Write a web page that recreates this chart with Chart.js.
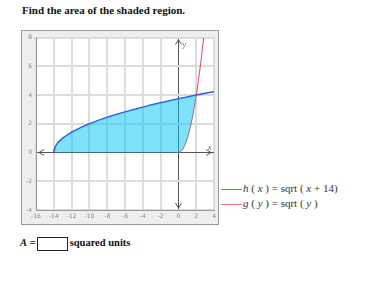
<!DOCTYPE html>
<html>
<head>
<meta charset="utf-8">
<script src="https://cdn.jsdelivr.net/npm/chart.js@4"></script>
<style>
  body { margin: 0; width: 389px; height: 305px; background: #fff; position: relative; }
  .serif { font-family: "Liberation Serif", "Times New Roman", "DejaVu Serif", serif; }
  .title { position: absolute; left: 22px; top: 4px; font-size: 11px; font-weight: bold; color: #111; }
  #wrap { position: absolute; left: 21px; top: 30px; width: 198px; height: 195px; }
  .leg { position: absolute; left: 221px; font-size: 11px; color: #333; white-space: nowrap; }
  .leg span.ln { display: inline-block; width: 21px; height: 0; border-top: 1px solid; vertical-align: middle; margin-right: 1px; }
  .ans { position: absolute; left: 20px; top: 237px; font-size: 10.5px; font-weight: bold; color: #111; white-space: nowrap; }
  .ans .box { display: inline-block; width: 29px; height: 12px; border: 1.5px solid #222; vertical-align: middle; margin: 0 2px 0 1px; }
</style>
</head>
<body>
<div class="title serif">Find the area of the shaded region.</div>
<div id="wrap"><canvas id="c"></canvas></div>
<div class="leg serif" style="top:182px"><span class="ln" style="border-color:#6a78f0"></span><i>h</i> ( <i>x</i> ) = sqrt ( <i>x</i> + 14)</div>
<div class="leg serif" style="top:197px"><span class="ln" style="border-color:#f07a7a"></span><i>g</i> ( <i>y</i> ) = sqrt ( <i>y</i> )</div>
<div class="ans serif"><i>A</i> =<span class="box"></span>squared units</div>
<script>
// h(x) = sqrt(x + 14), sampled
const hX = [-14, -13.99, -13.96, -13.9, -13.75, -13.5, -13, -12.5, -12, -11, -10, -9, -8, -7, -6, -5, -4, -3, -2, -1, 0, 1, 2, 3, 4]
const hY = [0, 0.1, 0.2, 0.32, 0.5, 0.71, 1, 1.22, 1.41, 1.73, 2, 2.24, 2.45, 2.65, 2.83, 3, 3.16, 3.32, 3.46, 3.61, 3.74, 3.87, 4, 4.12, 4.24]
// x = sqrt(y)  ->  y = x^2, sampled
const gX = [0, 0.25, 0.5, 0.75, 1, 1.25, 1.5, 1.75, 2, 2.25, 2.5, 2.75, 2.83]
const gY = [0, 0.06, 0.25, 0.56, 1, 1.56, 2.25, 3.06, 4, 5.06, 6.25, 7.56, 8]
// shaded region limits
const regionLeft = -14
const regionRight = 2
const xTicks = [-16, -14, -12, -10, -8, -6, -4, -2, 0, 2, 4]
const yTicks = [-4, -2, 0, 2, 4, 6, 8]

const pts = (xs, ys) => xs.map((x, i) => ({ x, y: ys[i] }))

const hPts = pts(hX, hY)
const gPts = pts(gX, gY)
const fillTop = hPts.filter(p => p.x <= regionRight)
const fillBottom = [{ x: regionLeft, y: 0 }].concat(gPts.filter(p => p.x <= regionRight))

const panel = {
  id: 'panel',
  beforeDraw(chart) {
    const { ctx, chartArea: a, width, height } = chart
    ctx.save()
    ctx.fillStyle = '#eeeeee'
    ctx.fillRect(0, 0, width, height)
    ctx.strokeStyle = '#9a9a9a'
    ctx.lineWidth = 1
    ctx.strokeRect(0.5, 0.5, width - 1, height - 1)
    ctx.fillStyle = '#fff'
    ctx.fillRect(a.left, a.top, a.right - a.left, a.bottom - a.top)
    ctx.restore()
  },
  afterDraw(chart) {
    const { ctx, chartArea: a, scales: { x, y } } = chart
    const x0 = x.getPixelForValue(0)
    const y0 = y.getPixelForValue(0)
    ctx.save()
    ctx.strokeStyle = '#555'
    ctx.lineWidth = 1
    const arrow = (px, py, dx, dy) => {
      ctx.beginPath()
      ctx.moveTo(px + dx * 5 + dy * 3, py + dy * 5 + dx * 3)
      ctx.lineTo(px, py)
      ctx.lineTo(px + dx * 5 - dy * 3, py + dy * 5 - dx * 3)
      ctx.stroke()
    }
    arrow(a.left + 3, y0, 1, 0)
    arrow(a.right - 3, y0, -1, 0)
    arrow(x0, a.top + 2, 0, 1)
    arrow(x0, a.bottom - 2, 0, -1)
    ctx.fillStyle = '#666'
    ctx.font = 'italic 8px "Liberation Serif"'
    ctx.fillText('x', a.right - 6, y0 - 3)
    ctx.fillText('y', x0 + 4, a.top + 9)
    ctx.restore()
  },
}

new Chart(document.getElementById('c'), {
  type: 'scatter',
  data: {
    datasets: [
      {
        data: fillTop,
        showLine: true,
        borderWidth: 0,
        borderColor: 'rgba(0,0,0,0)',
        backgroundColor: 'rgba(0,196,250,0.5)',
        pointRadius: 0,
        fill: '+1',
      },
      {
        data: fillBottom,
        showLine: true,
        borderWidth: 0,
        borderColor: 'rgba(0,0,0,0)',
        pointRadius: 0,
        fill: false,
      },
      {
        data: hPts,
        showLine: true,
        borderWidth: 1.5,
        borderColor: '#3350e0',
        pointRadius: 0,
      },
      {
        data: gPts,
        showLine: true,
        borderWidth: 1,
        borderColor: '#e0485a',
        pointRadius: 0,
      },
    ],
  },
  options: {
    responsive: true,
    maintainAspectRatio: false,
    animation: false,
    layout: { padding: { left: 0, right: 2, top: 1, bottom: 1 } },
    plugins: { legend: { display: false }, tooltip: { enabled: false } },
    scales: {
      x: {
        type: 'linear',
        min: -16,
        max: 4,
        afterBuildTicks: (s) => { s.ticks = xTicks.map(v => ({ value: v })) },
        afterFit: (s) => { s.height = 14 },
        ticks: { color: '#888', font: { size: 6, family: 'DejaVu Sans' }, padding: 3, maxRotation: 0 },
        grid: {
          color: (c) => (c.tick && c.tick.value === 0 ? '#555' : '#dcdcdc'),
          lineWidth: (c) => (c.tick && c.tick.value === 0 ? 1 : 2),
          drawTicks: false,
        },
        border: { display: true, color: '#999' },
      },
      y: {
        type: 'linear',
        min: -4,
        max: 8,
        afterBuildTicks: (s) => { s.ticks = yTicks.map(v => ({ value: v })) },
        afterFit: (s) => { s.width = 15 },
        ticks: { color: '#888', font: { size: 6, family: 'DejaVu Sans' }, padding: 4 },
        grid: {
          color: (c) => (c.tick && c.tick.value === 0 ? '#555' : '#dcdcdc'),
          lineWidth: (c) => (c.tick && c.tick.value === 0 ? 1 : 2),
          drawTicks: false,
        },
        border: { display: true, color: '#999' },
      },
    },
  },
  plugins: [panel],
})
</script>
</body>
</html>
